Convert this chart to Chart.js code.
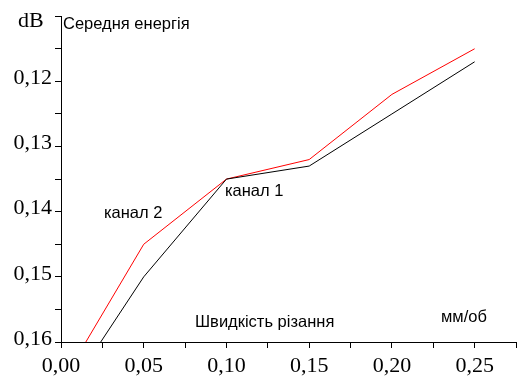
<!DOCTYPE html>
<html>
<head>
<meta charset="utf-8">
<script src="https://cdn.jsdelivr.net/npm/chart.js@4/dist/chart.umd.min.js"></script>
<style>
html,body{margin:0;padding:0;background:#fff;}
#wrap{position:relative;width:523px;height:378px;}
</style>
</head>
<body>
<div id="wrap"><canvas id="c" width="523" height="378"></canvas></div>
<script>
// Data
const speedChannel1 = [0.024, 0.05, 0.10, 0.15, 0.20, 0.25];
const energyChannel1 = [0.160, 0.150, 0.135, 0.133, 0.125, 0.117];
const speedChannel2 = [0.015, 0.05, 0.10, 0.15, 0.20, 0.25];
const energyChannel2 = [0.160, 0.145, 0.135, 0.132, 0.122, 0.115];
const xTickLabels = ["0,00", "0,05", "0,10", "0,15", "0,20", "0,25"];
const yTickLabels = ["0,12", "0,13", "0,14", "0,15", "0,16"];
const seriesNames = ["канал 1", "канал 2"];

const pts = (xs, ys) => xs.map((x, i) => ({x: x, y: ys[i]}));
const serif = "'Liberation Serif', 'Times New Roman', serif";
const sans = "'Liberation Sans', Arial, sans-serif";

const textPlugin = {
  id: 'texts',
  afterDraw(chart) {
    const ctx = chart.ctx;
    ctx.save();
    ctx.fillStyle = '#000';
    ctx.textBaseline = 'alphabetic';
    ctx.textAlign = 'left';
    ctx.font = "22px " + serif;
    ctx.fillText("dB", 18, 27);
    ctx.font = "16.5px " + sans;
    ctx.fillText("Середня енергія", 63, 29);
    ctx.fillText(seriesNames[0], 225, 196);
    ctx.fillText(seriesNames[1], 104, 218);
    ctx.fillText("Швидкість різання", 195, 327);
    ctx.fillText("мм/об", 441, 322);
    ctx.restore();
  }
};

new Chart(document.getElementById('c'), {
  type: 'line',
  data: {
    datasets: [
      {label: seriesNames[0], data: pts(speedChannel1, energyChannel1), borderColor: '#000000', borderWidth: 1, pointRadius: 0, tension: 0, fill: false},
      {label: seriesNames[1], data: pts(speedChannel2, energyChannel2), borderColor: '#ff0000', borderWidth: 1, pointRadius: 0, tension: 0, fill: false}
    ]
  },
  options: {
    responsive: false,
    animation: false,
    devicePixelRatio: 1,
    layout: {padding: {top: 16, right: 7, left: 0, bottom: 0}},
    plugins: {legend: {display: false}, tooltip: {enabled: false}, title: {display: false}},
    scales: {
      x: {
        type: 'linear', min: 0, max: 0.275,
        afterFit: (a) => { a.height = 36; },
        afterBuildTicks: (a) => { const t = []; for (let i = 0; i <= 11; i++) t.push({value: i * 0.025}); a.ticks = t; },
        ticks: {
          autoSkip: false, maxRotation: 0, padding: 5, color: '#000',
          font: {family: serif, size: 22},
          callback: (v) => { const k = Math.round(v * 1000); return k % 50 === 0 ? xTickLabels[k / 50] : ''; }
        },
        grid: {drawOnChartArea: false, drawTicks: true, tickLength: 6, color: '#000'},
        border: {display: true, color: '#000', width: 1}
      },
      y: {
        type: 'linear', min: 0.11, max: 0.16, reverse: true,
        afterFit: (a) => { a.width = 61; },
        afterBuildTicks: (a) => { const t = []; for (let i = 0; i <= 10; i++) t.push({value: 0.11 + i * 0.005}); a.ticks = t; },
        ticks: {
          autoSkip: false, padding: 3, color: '#000', labelOffset: -3,
          font: {family: serif, size: 22},
          callback: (v) => { const k = Math.round(v * 1000); return (k % 10 === 0 && k >= 120) ? yTickLabels[(k - 120) / 10] : ''; }
        },
        grid: {drawOnChartArea: false, drawTicks: true, tickLength: 6, color: '#000'},
        border: {display: true, color: '#000', width: 1}
      }
    }
  },
  plugins: [textPlugin]
});
</script>
</body>
</html>
